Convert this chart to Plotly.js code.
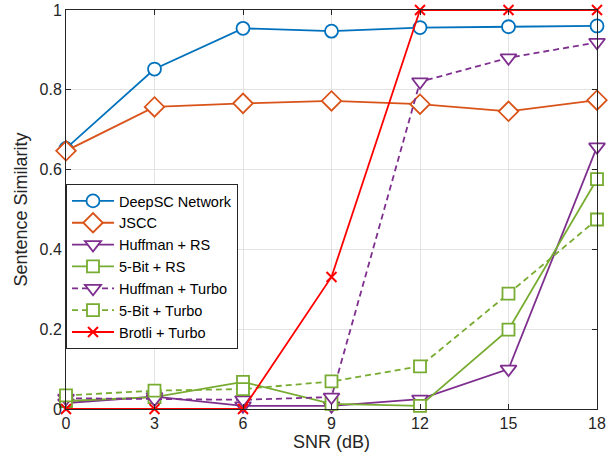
<!DOCTYPE html>
<html>
<head>
<meta charset="utf-8">
<script src="https://cdn.plot.ly/plotly-3.0.1.min.js"></script>
<style>
  html, body { margin: 0; padding: 0; background: #fff; }
  #chart { width: 608px; height: 463px; }
</style>
</head>
<body>
<div id="chart"></div>
<script>
// SNR sweep (dB) and sentence similarity of each scheme
const snr = [0, 3, 6, 9, 12, 15, 18];

const deepsc       = [0.653, 0.852, 0.954, 0.947, 0.956, 0.958, 0.960];
const jscc         = [0.647, 0.757, 0.766, 0.772, 0.764, 0.746, 0.774];
const huffmanRS    = [0.015, 0.031, 0.008, 0.008, 0.025, 0.100, 0.657];
const fiveBitRS    = [0.020, 0.030, 0.068, 0.013, 0.008, 0.199, 0.576];
const huffmanTurbo = [0.027, 0.025, 0.023, 0.030, 0.820, 0.880, 0.919];
const fiveBitTurbo = [0.034, 0.046, 0.050, 0.069, 0.107, 0.289, 0.475];
const brotliTurbo  = [0.000, 0.000, 0.000, 0.331, 1.000, 1.000, 1.000];

const yTicks = [0, 0.2, 0.4, 0.6, 0.8, 1];
const yTickText = ['0', '0.2', '0.4', '0.6', '0.8', '1'];

const BLUE = '#0072BD', ORANGE = '#D95319', PURPLE = '#7E2F8E',
      GREEN = '#77AC30', RED = '#FF0000';

function series(name, y, color, symbol, dash, size) {
  return {
    x: snr, y: y, name: name, type: 'scatter', mode: 'lines+markers',
    cliponaxis: false,
    line: { color: color, width: 1.8, dash: dash || 'solid' },
    marker: { symbol: symbol, size: size, color: 'rgba(255,255,255,1)',
              line: { color: color, width: 1.8 } }
  };
}

const traces = [
  series('DeepSC Network', deepsc, BLUE, 'circle', 'solid', 13),
  series('JSCC', jscc, ORANGE, 'diamond', 'solid', 15),
  series('Huffman + RS', huffmanRS, PURPLE, 'triangle-down', 'solid', 14),
  series('5-Bit + RS', fiveBitRS, GREEN, 'square', 'solid', 12),
  series('Huffman + Turbo', huffmanTurbo, PURPLE, 'triangle-down', '6px,4px', 14),
  series('5-Bit + Turbo', fiveBitTurbo, GREEN, 'square', '6px,4px', 12),
  {
    x: snr, y: brotliTurbo, name: 'Brotli + Turbo', type: 'scatter', mode: 'lines+markers',
    cliponaxis: false,
    line: { color: RED, width: 1.8 },
    marker: { symbol: 'x-thin', size: 10, color: RED, line: { color: RED, width: 2 } }
  }
];

const FONT = 'Liberation Sans, Arial, Helvetica, sans-serif';
const INK = '#262626';

const axisCommon = {
  showline: true, linecolor: INK, linewidth: 1, mirror: 'ticks',
  ticks: 'inside', ticklen: 5, tickcolor: INK,
  showgrid: true, gridcolor: '#e3e3e3', gridwidth: 1,
  zeroline: false, tickfont: { family: FONT, size: 16, color: INK }
};

const layout = {
  width: 608, height: 463,
  margin: { l: 66, r: 11, t: 10, b: 54 },
  paper_bgcolor: '#fff', plot_bgcolor: '#fff',
  font: { family: FONT, color: INK },
  showlegend: true,
  xaxis: Object.assign({}, axisCommon, {
    range: [0, 18], tickvals: snr,
    title: { text: 'SNR (dB)', font: { family: FONT, size: 18, color: INK }, standoff: 3 }
  }),
  yaxis: Object.assign({}, axisCommon, {
    range: [0, 1], tickvals: yTicks, ticktext: yTickText,
    title: { text: 'Sentence Similarity', font: { family: FONT, size: 18, color: INK }, standoff: 7 }
  }),
  legend: {
    x: 0, xanchor: 'left', y: 0.564, yanchor: 'top',
    bgcolor: '#fff', bordercolor: INK, borderwidth: 1,
    font: { family: FONT, size: 14.5, color: '#000' },
    itemwidth: 42,
    tracegroupgap: 0
  }
};

Plotly.newPlot('chart', traces, layout, { displayModeBar: false, staticPlot: true });
</script>
</body>
</html>
